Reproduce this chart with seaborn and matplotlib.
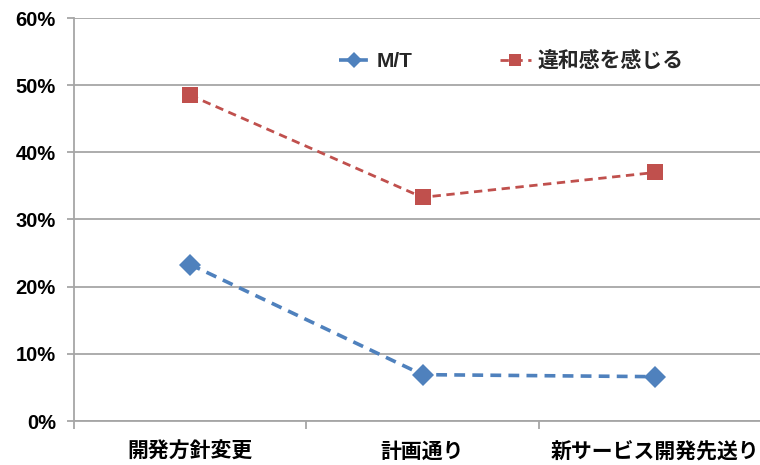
import matplotlib
matplotlib.use("Agg")
import matplotlib.pyplot as plt
import seaborn as sns
import pandas as pd
from matplotlib.ticker import FixedLocator, PercentFormatter

categories = ["開発方針変更", "計画通り", "新サービス開発先送り"]
mt_values = [0.233, 0.069, 0.066]
discomfort_values = [0.485, 0.333, 0.370]
series_names = ["M/T", "違和感を感じる"]
y_ticks = [0.0, 0.1, 0.2, 0.3, 0.4, 0.5, 0.6]

sns.set_theme(style="white")
plt.rcParams["font.family"] = ["Liberation Sans", "Noto Sans CJK JP", "DejaVu Sans"]
plt.rcParams["font.weight"] = "bold"

blue = "#4F81BD"
red = "#C0504D"
grid_gray = "#A6A6A6"

df = pd.DataFrame({
    "category": categories * 2,
    "value": mt_values + discomfort_values,
    "series": [series_names[0]] * 3 + [series_names[1]] * 3,
})

fig = plt.figure(figsize=(7.6, 4.65), dpi=100)
ax = fig.add_axes([74 / 760, 44 / 465, 697 / 760, 403 / 465])

sns.lineplot(data=df[df.series == series_names[0]], x="category", y="value",
             ax=ax, color=blue, linestyle=(0, (3, 2)), linewidth=2.6,
             marker="D", markersize=11, markeredgewidth=0, label=series_names[0],
             sort=False)
sns.lineplot(data=df[df.series == series_names[1]], x="category", y="value",
             ax=ax, color=red, linestyle=(0, (3, 2)), linewidth=2.0,
             marker="s", markersize=12, markeredgewidth=0, label=series_names[1],
             sort=False)

ax.set_xlim(-0.5, 2.5)
ax.set_ylim(0, 0.6)
ax.yaxis.set_major_locator(FixedLocator(y_ticks))
ax.yaxis.set_major_formatter(PercentFormatter(1.0, decimals=0))
ax.grid(axis="y", color=grid_gray, linewidth=1.3)
ax.grid(axis="x", visible=False)
ax.set_axisbelow(True)

for side in ["top", "right"]:
    ax.spines[side].set_visible(False)
for side in ["left", "bottom"]:
    ax.spines[side].set_color(grid_gray)
    ax.spines[side].set_linewidth(1.3)

ax.set_xlabel("")
ax.set_ylabel("")
ax.tick_params(axis="y", which="major", length=5, width=1.3, color=grid_gray,
               direction="out", left=True, labelsize=14.5, pad=8, labelcolor="black")
ax.tick_params(axis="x", which="major", length=0, labelsize=15, pad=15, labelcolor="black")
ax.xaxis.set_minor_locator(FixedLocator([-0.5, 0.5, 1.5, 2.5]))
ax.tick_params(axis="x", which="minor", length=6, width=1.3, color=grid_gray,
               direction="out", bottom=True)
for lbl in ax.get_xticklabels() + ax.get_yticklabels():
    lbl.set_fontweight("bold")

ax.get_legend().remove()
handles, labels = ax.get_legend_handles_labels()
fig.legend(handles, labels, loc="center", bbox_to_anchor=(511 / 760, 404 / 465),
           ncol=2, frameon=False, handlelength=1.5, markerscale=0.72,
           handletextpad=0.3, columnspacing=4.2,
           prop={"weight": "bold", "size": 15})

fig.savefig("out.png", dpi=100)
